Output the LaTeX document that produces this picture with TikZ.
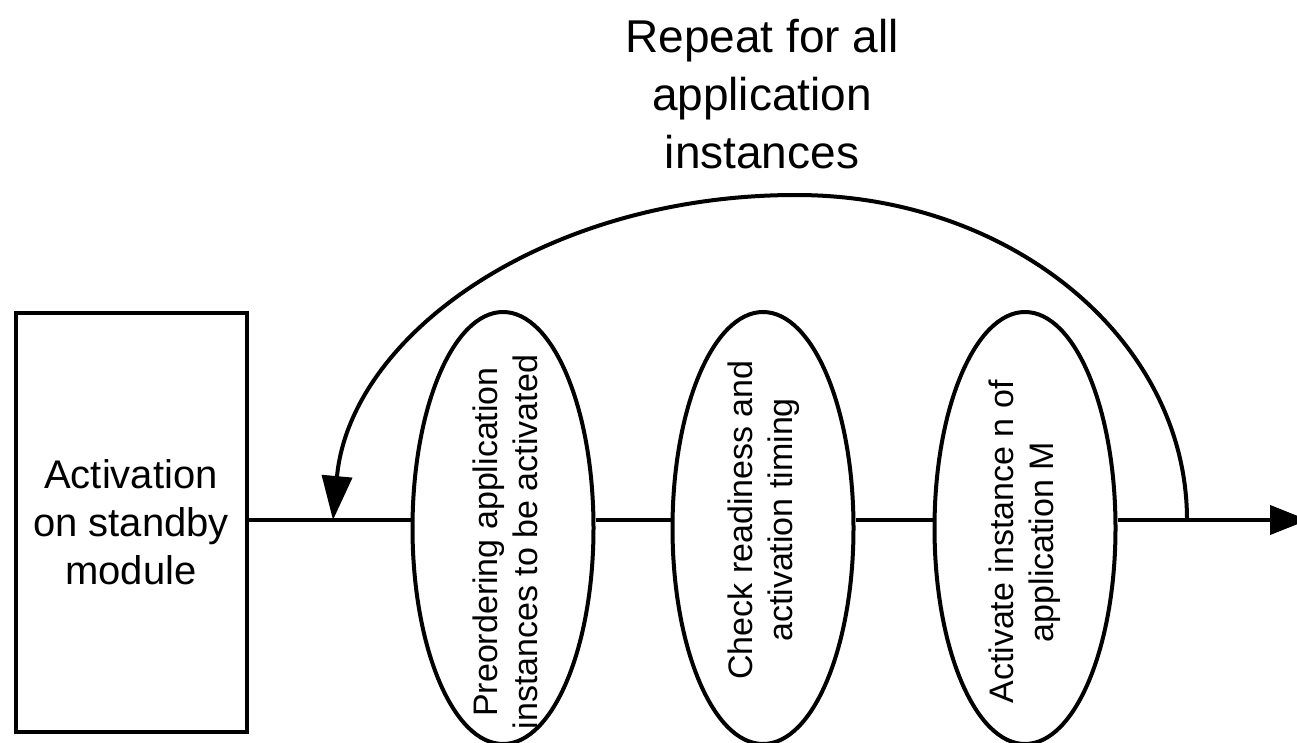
\documentclass[tikz,border=0pt]{standalone}
\usepackage{fontspec}
\setmainfont{Liberation Sans}
\usetikzlibrary{shapes.geometric,arrows.meta}
\begin{document}
\begin{tikzpicture}[x=1pt,y=-1pt,
  line width=4pt,
  boxnode/.style={draw, rectangle, minimum width=231pt, minimum height=419pt,
    inner sep=0pt, align=center, font=\fontsize{40}{48}\selectfont},
  stepoval/.style={draw, ellipse, minimum width=181pt, minimum height=432pt, inner sep=0pt},
  ovaltext/.style={rotate=90, align=center, inner sep=0pt, font=\fontsize{34}{40}\selectfont},
  titletext/.style={align=center, inner sep=0pt, font=\fontsize{46}{58}\selectfont},
  tip/.style={-{Triangle[length=44pt,width=30pt]}}
]
\useasboundingbox (0,0) rectangle (1297,743);

% flow axis
\coordinate (axis) at (0,520);

% start box and the three steps
\node[boxnode] (start) at (131,522) {Activation\\on standby\\module};
\node[stepoval] (s1) at (503,528) {};
\node[stepoval] (s2) at (763,528) {};
\node[stepoval] (s3) at (1025,528) {};

\node[ovaltext] (t1) at (505,542) {Preordering application\\instances to be activated};
\node[ovaltext] (t2) at (764,520) {Check readiness and\\activation timing};
\node[ovaltext] (t3) at (1025,542) {Activate instance n of\\application M};

% straight connectors
\draw (start.east |- axis) -- (s1.west |- axis);
\draw (s1.east |- axis) -- (s2.west |- axis);
\draw (s2.east |- axis) -- (s3.west |- axis);
\coordinate (exit) at (1308,520);
\draw[-{Triangle[length=38pt,width=29pt]}] (s3.east |- axis) -- (exit);

% loop back
\coordinate (loopstart) at (1187,520);
\coordinate (looptop) at (796,195);
\coordinate (loopend) at (333,520);
\draw[tip] (loopstart) .. controls (1187,340.5) and (1012,195) .. (looptop)
  .. controls (545,195) and (350,335) .. (loopend);

\node[titletext] (title) at (762,94) {Repeat for all\\application\\instances};
\end{tikzpicture}
\end{document}
